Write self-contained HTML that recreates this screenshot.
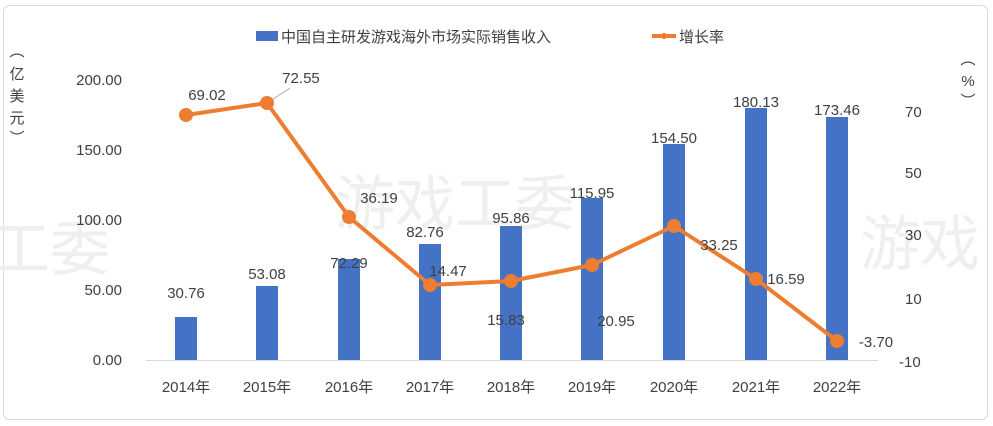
<!DOCTYPE html>
<html><head><meta charset="utf-8"><style>
body{margin:0;background:#fff}
svg{display:block}
text{font-family:"Liberation Sans","Noto Sans CJK SC",sans-serif;fill:#404040}
</style></head><body>
<svg width="993" height="426" viewBox="0 0 993 426" xmlns="http://www.w3.org/2000/svg">
<rect x="3.5" y="5.5" width="984" height="414" rx="6" fill="#fff" stroke="#d9d9d9"/>
<g font-size="60" style="fill:#f0f0f0" opacity="0.9">
<text x="-10" y="270" style="fill:#eeeeee">工委</text>
<text x="335" y="225" style="fill:#eeeeee">游戏工委</text>
<text x="860" y="265" style="fill:#eeeeee">游戏</text>
</g>
<line x1="146" y1="360.5" x2="878" y2="360.5" stroke="#d9d9d9"/>
<!-- legend -->
<rect x="256" y="31" width="22" height="10" fill="#4472c4"/>
<text x="281" y="42" font-size="15">中国自主研发游戏海外市场实际销售收入</text>
<line x1="652" y1="36" x2="676" y2="36" stroke="#ed7d31" stroke-width="4"/>
<circle cx="664" cy="36" r="3" fill="#ed7d31"/>
<text x="679" y="42" font-size="15">增长率</text>
<!-- left axis -->
<g font-size="15" text-anchor="end">
<text x="122" y="85">200.00</text>
<text x="122" y="155">150.00</text>
<text x="122" y="225">100.00</text>
<text x="122" y="295">50.00</text>
<text x="122" y="365">0.00</text>
</g>
<g font-size="15" text-anchor="middle">
<text x="17" y="56">︵</text><text x="17" y="79">亿</text><text x="17" y="101">美</text><text x="17" y="123">元</text><text x="17" y="143">︶</text>
<text x="968" y="64">︵</text><text x="968" y="86">%</text><text x="968" y="106">︶</text>
</g>
<g font-size="15" text-anchor="start">
<text x="905" y="117">70</text>
<text x="905" y="178">50</text>
<text x="905" y="240">30</text>
<text x="905" y="304">10</text>
<text x="899" y="367">-10</text>
</g>
<!-- bars -->
<g fill="#4472c4">
<rect x="175" y="317" width="22" height="43"/>
<rect x="256" y="286" width="22" height="74"/>
<rect x="338" y="259" width="22" height="101"/>
<rect x="419" y="244" width="22" height="116"/>
<rect x="500" y="226" width="22" height="134"/>
<rect x="581" y="198" width="22" height="162"/>
<rect x="663" y="144" width="22" height="216"/>
<rect x="745" y="108" width="22" height="252"/>
<rect x="826" y="117" width="22" height="243"/>
</g>
<g font-size="15" text-anchor="middle">
<text x="186" y="298">30.76</text>
<text x="267" y="279">53.08</text>
<text x="349" y="268">72.29</text>
<text x="425" y="237">82.76</text>
<text x="511" y="223">95.86</text>
<text x="592" y="198">115.95</text>
<text x="674" y="143">154.50</text>
<text x="756" y="107">180.13</text>
<text x="837" y="115">173.46</text>
</g>
<!-- x labels -->
<g font-size="15" text-anchor="middle">
<text x="186" y="392">2014年</text><text x="267" y="392">2015年</text><text x="349" y="392">2016年</text>
<text x="430" y="392">2017年</text><text x="511" y="392">2018年</text><text x="592" y="392">2019年</text>
<text x="674" y="392">2020年</text><text x="756" y="392">2021年</text><text x="837" y="392">2022年</text>
</g>
<!-- line -->
<line x1="267" y1="103" x2="290" y2="88" stroke="#a6a6a6"/>
<polyline fill="none" stroke="#ed7d31" stroke-width="4" stroke-linejoin="round" points="186,115 267,103 349,217 430,285 511,281 592,265 674,226 756,279 837,341"/>
<g fill="#ed7d31">
<circle cx="186" cy="115" r="7"/><circle cx="267" cy="103" r="7"/><circle cx="349" cy="217" r="7"/>
<circle cx="430" cy="285" r="7"/><circle cx="511" cy="281" r="7"/><circle cx="592" cy="265" r="7"/>
<circle cx="674" cy="226" r="7"/><circle cx="756" cy="279" r="7"/><circle cx="837" cy="341" r="7"/>
</g>
<g font-size="15" text-anchor="middle">
<text x="207" y="100">69.02</text>
<text x="301" y="83">72.55</text>
<text x="379" y="203">36.19</text>
<text x="448" y="276">14.47</text>
<text x="506" y="325">15.83</text>
<text x="616" y="326">20.95</text>
<text x="719" y="250">33.25</text>
<text x="786" y="284">16.59</text>
<text x="876" y="347">-3.70</text>
</g>
</svg>
</body></html>
